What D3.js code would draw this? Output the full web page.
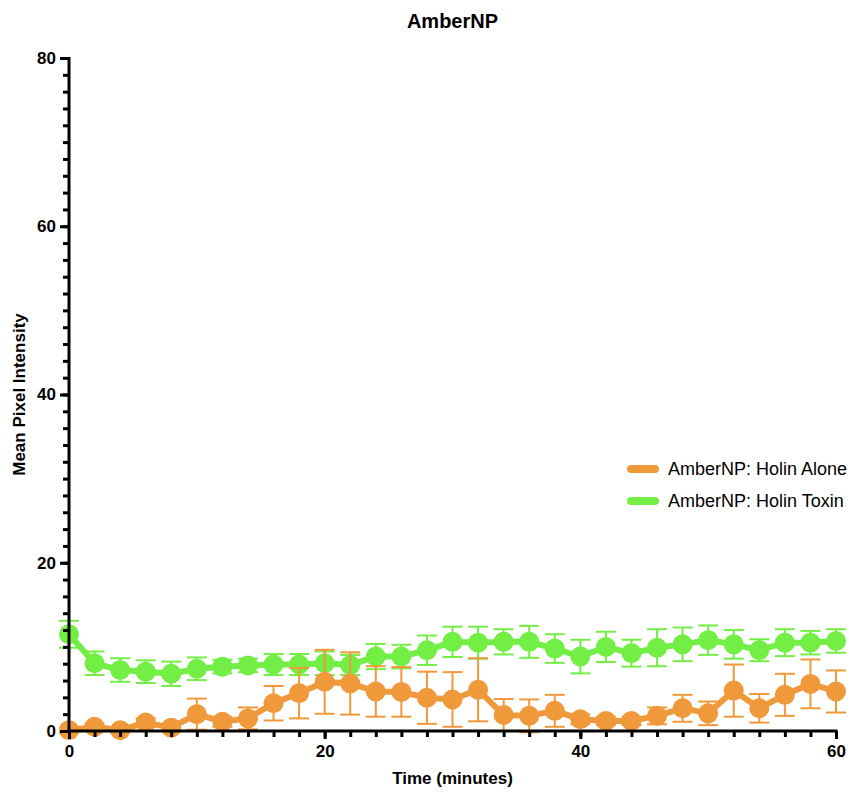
<!DOCTYPE html>
<html>
<head>
<meta charset="utf-8">
<script src="https://cdn.jsdelivr.net/npm/d3@7"></script>
<style>
  body { margin: 0; background: #fff; }
  text { font-family: "Liberation Sans", Arial, Helvetica, sans-serif; }
</style>
</head>
<body>
<div id="draw"></div>
<script>
var times = [0, 2, 4, 6, 8, 10, 12, 14, 16, 18, 20, 22, 24, 26, 28, 30,
	32, 34, 36, 38, 40, 42, 44, 46, 48, 50, 52, 54, 56, 58, 60];

var aloneMean = [0.1, 0.5, 0.1, 1.0, 0.4, 2.0, 1.1, 1.5, 3.3, 4.5, 5.85, 5.65, 4.7, 4.65, 3.95, 3.75,
	4.9, 1.9, 1.8, 2.4, 1.4, 1.2, 1.2, 1.8, 2.7, 2.1, 4.8, 2.7, 4.3, 5.6, 4.7];
var aloneErr = [0.3, 0.4, 0.3, 0.5, 0.4, 1.85, 0.6, 1.3, 2.05, 3.0, 3.8, 3.7, 3.0, 2.95, 3.1, 3.25,
	3.75, 1.9, 1.95, 1.9, 0.6, 0.5, 0.5, 1.0, 1.6, 1.4, 3.1, 1.7, 2.5, 2.9, 2.5];

var toxinMean = [11.5, 8.05, 7.25, 7.05, 6.8, 7.4, 7.65, 7.8, 7.9, 7.9, 8.05, 7.85, 8.85, 8.85, 9.6, 10.6,
	10.5, 10.6, 10.6, 9.8, 8.85, 10.0, 9.25, 9.9, 10.3, 10.8, 10.3, 9.6, 10.5, 10.5, 10.7];
var toxinErr = [1.6, 1.4, 1.4, 1.35, 1.45, 1.35, 0.8, 0.8, 1.25, 1.25, 1.4, 1.2, 1.5, 1.4, 1.75, 1.8,
	1.9, 1.5, 1.9, 1.7, 2.0, 1.8, 1.6, 2.2, 2.0, 1.75, 1.7, 1.3, 1.6, 1.4, 1.4];

var seriesNames = ["AmberNP: Holin Alone", "AmberNP: Holin Toxin"];
var seriesColors = ["#f0993b", "#72ee45"];
var xTicks = [0, 20, 40, 60];
var yTicks = [0, 20, 40, 60, 80];

var width = 851, height = 792;
var mLeft = 69, mRight = 836, mTop = 58, mBottom = 731;

var x = d3.scaleLinear().domain([0, 60]).range([mLeft, mRight]);
var y = d3.scaleLinear().domain([0, 80]).range([mBottom, mTop]);

var svg = d3.select("#draw").append("svg")
	.attr("width", width)
	.attr("height", height);

var series = [
	{ name: seriesNames[1], color: seriesColors[1], mean: toxinMean, err: toxinErr },
	{ name: seriesNames[0], color: seriesColors[0], mean: aloneMean, err: aloneErr }
];

var line = d3.line()
	.x(function(d){ return x(d.t); })
	.y(function(d){ return y(d.m); });

series.forEach(function(s){
	var pts = times.map(function(t, i){ return { t: t, m: s.mean[i], e: s.err[i] }; });
	var g = svg.append("g");

	// error bars
	var eb = g.selectAll(".eb").data(pts).enter().append("g")
		.attr("stroke", s.color)
		.attr("stroke-width", 2);
	eb.append("line")
		.attr("x1", function(d){ return x(d.t); })
		.attr("x2", function(d){ return x(d.t); })
		.attr("y1", function(d){ return y(d.m + d.e); })
		.attr("y2", function(d){ return y(d.m - d.e); });
	eb.append("line")
		.attr("x1", function(d){ return x(d.t) - 10; })
		.attr("x2", function(d){ return x(d.t) + 10; })
		.attr("y1", function(d){ return y(d.m + d.e); })
		.attr("y2", function(d){ return y(d.m + d.e); });
	eb.append("line")
		.attr("x1", function(d){ return x(d.t) - 10; })
		.attr("x2", function(d){ return x(d.t) + 10; })
		.attr("y1", function(d){ return y(d.m - d.e); })
		.attr("y2", function(d){ return y(d.m - d.e); });

	g.append("path")
		.datum(pts)
		.attr("fill", "none")
		.attr("stroke", s.color)
		.attr("stroke-width", 6)
		.attr("d", line);

	g.selectAll("circle").data(pts).enter().append("circle")
		.attr("cx", function(d){ return x(d.t); })
		.attr("cy", function(d){ return y(d.m); })
		.attr("r", 10)
		.attr("fill", s.color);
});

// axes: minor ticks in their own groups, then major ticks with labels
svg.append("g").attr("class", "minor").attr("transform", "translate(0," + mBottom + ")")
	.call(d3.axisBottom(x).tickValues(d3.range(0, 61, 2)).tickSize(6).tickFormat(""));
svg.append("g").attr("class", "major").attr("transform", "translate(0," + mBottom + ")")
	.call(d3.axisBottom(x).tickValues(xTicks).tickSize(8).tickPadding(6).tickFormat(d3.format("d")));

svg.append("g").attr("class", "minor").attr("transform", "translate(" + mLeft + ",0)")
	.call(d3.axisLeft(y).tickValues(d3.range(0, 81, 2)).tickSize(6).tickFormat(""));
svg.append("g").attr("class", "major").attr("transform", "translate(" + mLeft + ",0)")
	.call(d3.axisLeft(y).tickValues(yTicks).tickSize(9).tickPadding(4).tickFormat(d3.format("d")));

svg.selectAll(".domain").remove();
svg.selectAll(".tick line").attr("stroke-width", 3);

svg.append("line").attr("x1", mLeft).attr("x2", mLeft).attr("y1", mTop - 1).attr("y2", mBottom + 1.5)
	.attr("stroke", "#000").attr("stroke-width", 3);
svg.append("line").attr("x1", mLeft - 1.5).attr("x2", mRight + 1.5).attr("y1", mBottom).attr("y2", mBottom)
	.attr("stroke", "#000").attr("stroke-width", 3);

svg.selectAll(".major .tick text")
	.style("font-size", "17px")
	.style("font-weight", "bold")
	.attr("fill", "#000");

// titles
svg.append("text")
	.attr("x", (mLeft + mRight) / 2)
	.attr("y", 28)
	.attr("text-anchor", "middle")
	.style("font-size", "20px")
	.style("font-weight", "bold")
	.text("AmberNP");

svg.append("text")
	.attr("x", (mLeft + mRight) / 2)
	.attr("y", 784)
	.attr("text-anchor", "middle")
	.style("font-size", "17px")
	.style("font-weight", "bold")
	.text("Time (minutes)");

svg.append("text")
	.attr("transform", "translate(25," + y(40) + ") rotate(-90)")
	.attr("text-anchor", "middle")
	.style("font-size", "17px")
	.style("font-weight", "bold")
	.text("Mean Pixel Intensity");

// legend
var legend = svg.selectAll(".legend").data(seriesNames).enter().append("g")
	.attr("transform", function(d, i){ return "translate(628," + (469 + i * 32) + ")"; });
legend.append("line")
	.attr("x1", 3).attr("x2", 27)
	.attr("stroke", function(d, i){ return seriesColors[i]; })
	.attr("stroke-width", 8)
	.attr("stroke-linecap", "round");
legend.append("text")
	.attr("x", 40)
	.attr("y", 6)
	.style("font-size", "18px")
	.attr("fill", "#000")
	.text(function(d){ return d; });
</script>
</body>
</html>
